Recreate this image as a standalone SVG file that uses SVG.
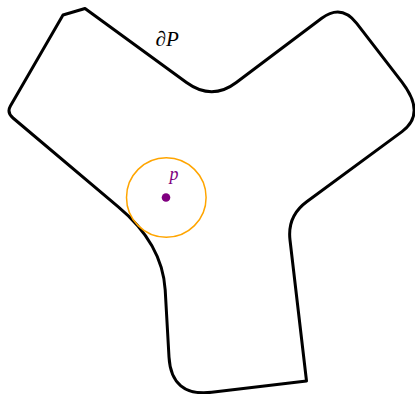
<svg xmlns="http://www.w3.org/2000/svg" width="415" height="394" viewBox="0 0 415 394">
<style>
.bd{fill:none;stroke:#000;stroke-width:3;stroke-linejoin:round;stroke-linecap:round}
.lbl{font-family:"Liberation Serif","DejaVu Serif",serif;font-style:italic}
</style>
<rect width="415" height="394" fill="#fff"/>
<g id="boundary">
<path class="bd" d="M63,15 L85,8.5 L186.5,82.5 Q212,101 236.3,82.5 L321.7,18.3 Q341.4,3.5 356.7,23.3 L402,82.2 Q426.3,113.8 402,131.6 L306.7,201.7 Q287.2,216 290,240 L306.5,381 L211.7,392.3 Q171.3,397 169,357 L165.2,290 Q162.4,243.5 118,206.6 L13,118 Q6.6,112.6 10.4,106 Z"/>
<text class="lbl" x="155.5" y="46" font-size="21" fill="#000">∂P</text>
</g>
<g id="point-p">
<circle cx="166.3" cy="197.5" r="39.8" fill="none" stroke="#FFA500" stroke-width="1.5"/>
<circle cx="166" cy="197.5" r="4.3" fill="#800080"/>
<text class="lbl" x="169.5" y="180" font-size="18" fill="#800080">p</text>
</g>
</svg>
